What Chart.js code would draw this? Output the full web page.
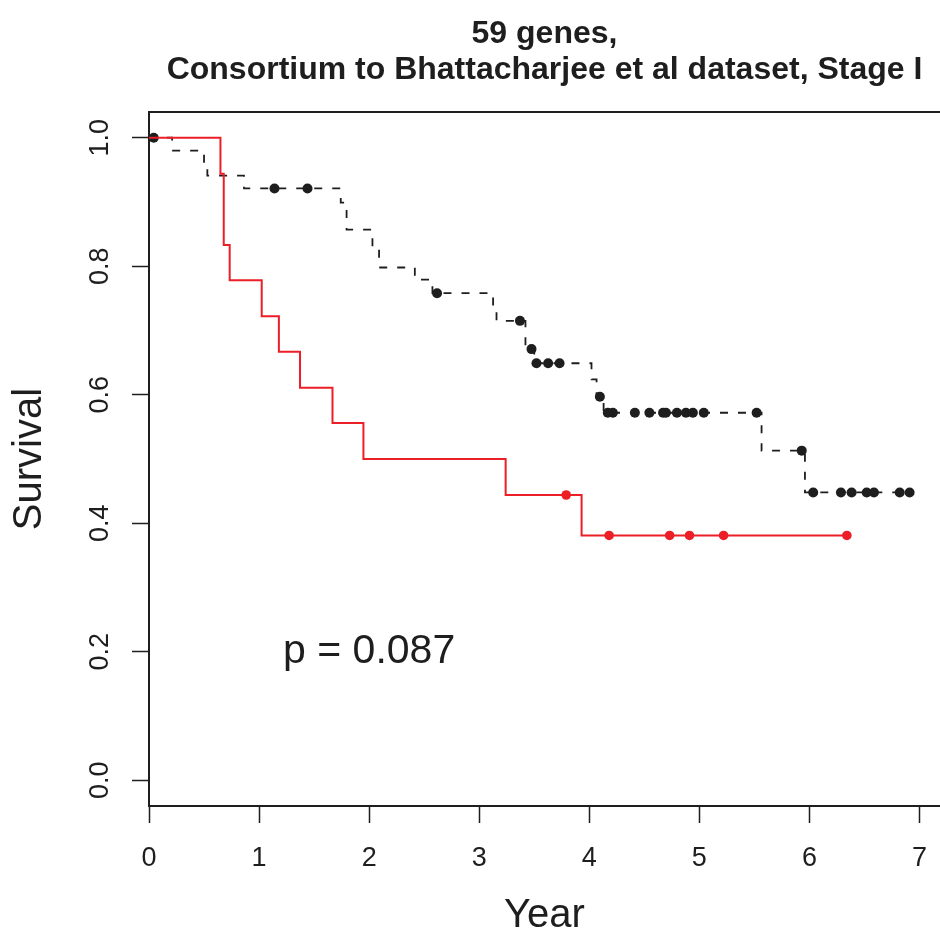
<!DOCTYPE html>
<html><head><meta charset="utf-8">
<script src="https://cdn.jsdelivr.net/npm/chart.js@4.4.1/dist/chart.umd.min.js"></script>
<style>html,body{margin:0;padding:0;background:#fff;overflow:hidden}canvas{display:block}</style>
</head><body>
<canvas id="c" width="940" height="934"></canvas>
<script>
// ---- data ----
const titleLines = ["59 genes,", "Consortium to Bhattacharjee et al dataset, Stage I"];
const xTitle = "Year";
const yTitle = "Survival";
const xTickValues = [0, 1, 2, 3, 4, 5, 6, 7];
const yTickValues = [0, 0.2, 0.4, 0.6, 0.8, 1.0];

// black dashed group: step times and survival after each step
const blackTimes = [0, 0.21, 0.50, 0.53, 0.863, 1.742, 1.795, 2.03, 2.09, 2.415, 2.575, 3.126, 3.157, 3.42, 3.50, 4.02, 4.066, 4.13, 5.565, 5.959, 6.91];
const blackSurv  = [1, 0.98, 0.96, 0.941, 0.921, 0.899, 0.857, 0.828, 0.798, 0.779, 0.758, 0.737, 0.715, 0.671, 0.649, 0.624, 0.597, 0.572, 0.513, 0.448, 0.448];
const blackCensor = [0.043, 1.14, 1.44, 2.617, 3.37, 3.475, 3.52, 3.626, 3.73, 4.096, 4.168, 4.214, 4.414, 4.546, 4.67, 4.696, 4.796, 4.878, 4.941, 5.04, 5.52, 5.93, 6.034, 6.286, 6.383, 6.52, 6.586, 6.82, 6.91];

// red solid group
const redTimes = [0, 0.649, 0.679, 0.733, 1.024, 1.18, 1.372, 1.667, 1.948, 3.24, 3.93, 6.34];
const redSurv  = [1, 0.944, 0.833, 0.778, 0.722, 0.667, 0.611, 0.556, 0.5, 0.444, 0.381, 0.381];
const redCensor = [3.79, 4.18, 4.73, 4.91, 5.22, 6.34];

const pLabel = "p = 0.087";
const pX = 2.0;
const pY = 0.2;

// ---- build ----
const FONT = '"Liberation Sans", Arial, Helvetica, sans-serif';
const INK = '#1e1e1e';
const RED = '#ec1f27';

function stepPoints(times, surv) { return times.map((t, i) => ({x: t, y: surv[i]})); }
function survAt(times, surv, t) {
  let v = surv[0];
  for (let i = 0; i < times.length; i++) { if (times[i] <= t) v = surv[i]; }
  return v;
}
function censorPoints(times, surv, cens) { return cens.map(t => ({x: t, y: survAt(times, surv, t)})); }
function noPad(s) { s.paddingLeft = 0; s.paddingRight = 0; s.paddingTop = 0; s.paddingBottom = 0; }

Chart.defaults.font.family = FONT;
Chart.defaults.color = INK;

const pTextPlugin = {
  id: 'pText',
  afterDatasetsDraw(chart) {
    const {ctx, scales: {x, y}} = chart;
    ctx.save();
    ctx.font = '41px ' + FONT;
    ctx.fillStyle = INK;
    ctx.textAlign = 'center';
    ctx.textBaseline = 'middle';
    ctx.fillText(pLabel, x.getPixelForValue(pX), y.getPixelForValue(pY));
    ctx.restore();
  }
};

const X_MIN = 0, X_MAX = 7.186, Y_MIN = -0.04, Y_MAX = 1.04;

new Chart(document.getElementById('c'), {
  type: 'scatter',
  data: {
    datasets: [
      { label: 'red', data: stepPoints(redTimes, redSurv), showLine: true, stepped: 'before',
        borderColor: RED, borderWidth: 2, pointRadius: 0, fill: false, clip: 8 },
      { label: 'redCens', data: censorPoints(redTimes, redSurv, redCensor), showLine: false,
        pointRadius: 4.8, pointBackgroundColor: RED, pointBorderWidth: 0, clip: 8 },
      { label: 'blackCens', data: censorPoints(blackTimes, blackSurv, blackCensor), showLine: false,
        pointRadius: 5, pointBackgroundColor: INK, pointBorderWidth: 0, clip: 8 },
      { label: 'black', data: stepPoints(blackTimes, blackSurv), showLine: true, stepped: 'before',
        borderColor: INK, borderWidth: 1.8, borderDash: [8, 10], pointRadius: 0, fill: false, clip: 8 }
    ]
  },
  options: {
    responsive: false,
    animation: false,
    devicePixelRatio: 1,
    layout: { padding: 0, autoPadding: false },
    plugins: {
      legend: { display: false },
      tooltip: { enabled: false },
      title: {
        display: true, text: titleLines, fullSize: false, color: INK,
        font: { size: 32, weight: 'bold', lineHeight: 1.125 },
        padding: { top: 16, bottom: 14 }
      }
    },
    scales: {
      x: {
        type: 'linear', position: 'bottom', min: X_MIN, max: X_MAX,
        afterBuildTicks: s => { s.ticks = xTickValues.map(v => ({value: v})); },
        afterFit: s => { s.height = 128; noPad(s); },
        ticks: { font: { size: 27 }, color: INK, padding: 19, maxRotation: 0, autoSkip: false,
          callback: v => String(v) },
        grid: { drawOnChartArea: false, drawTicks: true, tickLength: 17, tickColor: INK, tickWidth: 1.5 },
        border: { display: true, color: INK, width: 2 },
        title: { display: true, text: xTitle, color: INK, font: { size: 40, lineHeight: 0.9 }, padding: 0 }
      },
      xTop: {
        type: 'linear', position: 'top', min: X_MIN, max: X_MAX,
        afterFit: s => { s.height = 10; noPad(s); },
        ticks: { display: false },
        grid: { display: false, drawTicks: false },
        border: { display: true, color: INK, width: 2 }
      },
      y: {
        type: 'linear', position: 'left', min: Y_MIN, max: Y_MAX,
        afterBuildTicks: s => { s.ticks = yTickValues.map(v => ({value: v})); },
        afterFit: s => { s.width = 149; noPad(s); },
        ticks: { font: { size: 27 }, color: INK, padding: 13, minRotation: 90, maxRotation: 90,
          crossAlign: 'center', autoSkip: false, callback: v => Number(v).toFixed(1) },
        grid: { drawOnChartArea: false, drawTicks: true, tickLength: 17, tickColor: INK, tickWidth: 1.5 },
        border: { display: true, color: INK, width: 2 },
        title: { display: true, text: yTitle, color: INK, font: { size: 40, lineHeight: 1 }, padding: { top: 10, bottom: 0 } }
      }
    }
  },
  plugins: [pTextPlugin]
});
</script>
</body></html>
